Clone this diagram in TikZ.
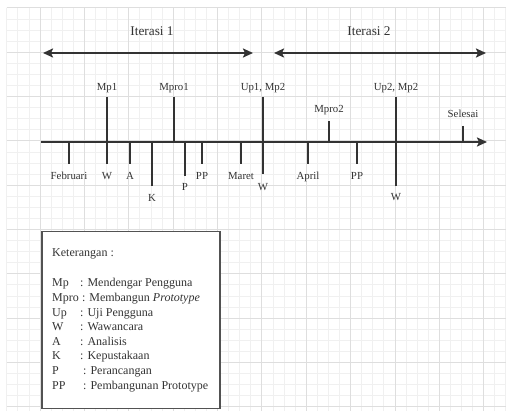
\documentclass[tikz,border=0pt]{standalone}
\usepackage{fontspec}
\setmainfont{Liberation Serif}
\usetikzlibrary{arrows.meta}
\definecolor{ink}{HTML}{333333}
\definecolor{gridminor}{HTML}{F0F0F0}
\definecolor{gridmajor}{HTML}{DEDEDE}
\begin{document}
\begin{tikzpicture}[x=1pt,y=-1pt,
  lbl/.style={font=\fontsize{10.8}{12}\selectfont, text=ink, anchor=base, inner sep=0pt},
  ttl/.style={font=\fontsize{13.3}{15}\selectfont, text=ink, anchor=base, inner sep=0pt},
  leg/.style={font=\fontsize{12}{14}\selectfont, text=ink, anchor=base west, inner sep=0pt},
  tick/.style={draw=ink, line width=1.4pt},
  axis/.style={draw=ink, line width=2pt, -{Stealth[length=10pt,width=9pt,inset=2pt]}},
  span/.style={draw=ink, line width=2pt, {Stealth[length=10pt,width=9pt,inset=2pt]}-{Stealth[length=10pt,width=9pt,inset=2pt]}},
  legbox/.style={draw=ink!85, line width=1.5pt, fill=white, inner sep=0pt, anchor=north west, minimum width=178pt, minimum height=177pt}
]
\useasboundingbox (0,0) rectangle (506,411);
\fill[white] (0,0) rectangle (506,411);
% grid
\foreach \i in {0,...,45} {
  \pgfmathsetmacro\xx{6.7+11.09*\i}
  \draw[gridminor, line width=0.6pt] (\xx,7.8) -- (\xx,411);
}
\foreach \j in {0,...,36} {
  \pgfmathsetmacro\yy{7.8+11.08*\j}
  \draw[gridminor, line width=0.6pt] (6.7,\yy) -- (506,\yy);
}
\foreach \i in {3,7,...,43} {
  \pgfmathsetmacro\xx{6.7+11.09*\i}
  \draw[gridmajor, line width=0.6pt] (\xx,7.8) -- (\xx,411);
}
\foreach \j in {0,4,...,36} {
  \pgfmathsetmacro\yy{7.8+11.08*\j}
  \draw[gridmajor, line width=0.6pt] (6.7,\yy) -- (506,\yy);
}

% iterations
\node[ttl] (it1) at (152,36) {Iterasi 1};
\node[ttl] (it2) at (369,36) {Iterasi 2};
\coordinate (i1l) at (43,53);
\coordinate (i1r) at (253,53);
\coordinate (i2l) at (274,53);
\coordinate (i2r) at (486,53);
\draw[span] (i1l) -- (i1r);
\draw[span] (i2l) -- (i2r);

% timeline
\coordinate (t0) at (41,142);
\coordinate (t1) at (487,142);
\draw[axis] (t0) -- (t1);

% upper ticks (with some continuing below)
\coordinate (mp1a) at (107,97);   \coordinate (mp1b) at (107,164);
\coordinate (mpr1a) at (174,97);  \coordinate (mpr1b) at (174,142);
\coordinate (up1a) at (263,97);   \coordinate (up1b) at (263,174);
\coordinate (mpr2a) at (329,121); \coordinate (mpr2b) at (329,142);
\coordinate (up2a) at (396,97);   \coordinate (up2b) at (396,186);
\coordinate (sela) at (463,126);  \coordinate (selb) at (463,142);
\draw[tick] (mp1a) -- (mp1b);
\draw[tick] (mpr1a) -- (mpr1b);
\draw[tick] (up1a) -- (up1b);
\draw[tick] (mpr2a) -- (mpr2b);
\draw[tick] (up2a) -- (up2b);
\draw[tick] (sela) -- (selb);

% lower ticks
\coordinate (feba) at (69,142);  \coordinate (febb) at (69,164);
\coordinate (aa) at (130,142);   \coordinate (ab) at (130,164);
\coordinate (ka) at (152,142);   \coordinate (kb) at (152,186);
\coordinate (pa) at (185,142);   \coordinate (pb) at (185,176);
\coordinate (ppa) at (202,142);  \coordinate (ppb) at (202,164);
\coordinate (mara) at (241,142); \coordinate (marb) at (241,164);
\coordinate (apra) at (308,142); \coordinate (aprb) at (308,164);
\coordinate (pp2a) at (357,142); \coordinate (pp2b) at (357,164);
\draw[tick] (feba) -- (febb);
\draw[tick] (aa) -- (ab);
\draw[tick] (ka) -- (kb);
\draw[tick] (pa) -- (pb);
\draw[tick] (ppa) -- (ppb);
\draw[tick] (mara) -- (marb);
\draw[tick] (apra) -- (aprb);
\draw[tick] (pp2a) -- (pp2b);

% upper labels
\node[lbl] (lmp1) at (107,90.7) {Mp1};
\node[lbl] (lmpr1) at (174,90.7) {Mpro1};
\node[lbl] (lup1) at (263,90.7) {Up1, Mp2};
\node[lbl] (lup2) at (396,90.7) {Up2, Mp2};
\node[lbl] (lmpr2) at (329,112.7) {Mpro2};
\node[lbl] (lsel) at (463,117.7) {Selesai};

% lower labels
\node[lbl] (lfeb) at (69,179.7) {Februari};
\node[lbl] (lw1) at (107,179.7) {W};
\node[lbl] (la) at (130,179.7) {A};
\node[lbl] (lpp) at (202,179.7) {PP};
\node[lbl] (lmar) at (241,179.7) {Maret};
\node[lbl] (lapr) at (308,179.7) {April};
\node[lbl] (lpp2) at (357,179.7) {PP};
\node[lbl] (lp) at (185,190.7) {P};
\node[lbl] (lw2) at (263,190.7) {W};
\node[lbl] (lk) at (152,201.7) {K};
\node[lbl] (lw3) at (396,200.7) {W};

% legend
\node[legbox] (legend) at (41,231) {};
\node[leg] (lgt) at (52,257) {Keterangan :};
\node[leg] (lg1a) at (52,287) {Mp};   \node[leg] (lg1b) at (80,287) {: Mendengar Pengguna};
\node[leg] (lg2a) at (52,301.6) {Mpro}; \node[leg] (lg2b) at (81.8,301.6) {: Membangun \textit{Prototype}};
\node[leg] (lg3a) at (52,316.2) {Up};   \node[leg] (lg3b) at (80,316.2) {: Uji Pengguna};
\node[leg] (lg4a) at (52,330.8) {W};    \node[leg] (lg4b) at (80,330.8) {: Wawancara};
\node[leg] (lg5a) at (52,345.4) {A};    \node[leg] (lg5b) at (80,345.4) {: Analisis};
\node[leg] (lg6a) at (52,360) {K};      \node[leg] (lg6b) at (80,360) {: Kepustakaan};
\node[leg] (lg7a) at (52,374.6) {P};    \node[leg] (lg7b) at (83,374.6) {: Perancangan};
\node[leg] (lg8a) at (52,389.2) {PP};   \node[leg] (lg8b) at (83,389.2) {: Pembangunan Prototype};
\end{tikzpicture}
\end{document}
